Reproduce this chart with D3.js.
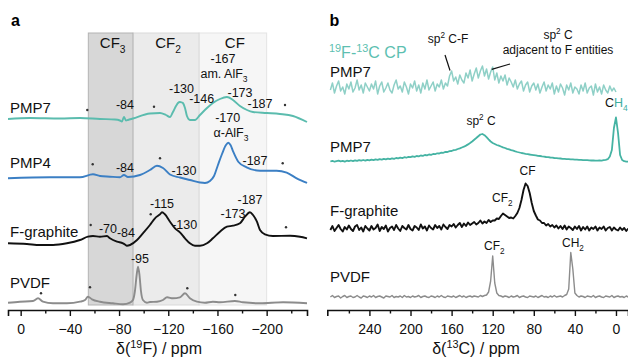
<!DOCTYPE html>
<html><head><meta charset="utf-8">
<script src="https://cdn.jsdelivr.net/npm/d3@7"></script>
<style>body{margin:0;background:#fff}svg{display:block;font-family:"Liberation Sans",Arial,sans-serif}</style>
</head><body><svg id="c" width="628" height="359"></svg>
<script>
// ---------- Panel a data: 19F MAS NMR (ppm, relative intensity) ----------
const samplesA = ["PMP7", "PMP4", "F-graphite", "PVDF"];
const regionNames = ["CF3", "CF2", "CF"];
const regionFrom = [-55, -91.3, -145];
const regionTo = [-91.3, -145, -200];
const ticksA = [0, -40, -80, -120, -160, -200];
const minorTicksA = [-20, -60, -100, -140, -180, -220];

const pmp7F_ppm = [10.3,-7.6,-32,-48.2,-64.5,-76.7,-80.7,-82.3,-84,-85.6,-87.2,-91.3,-105.1,-113.3,-118.1,-121.4,-123.8,-126.3,-127.9,-129.5,-131.1,-131.9,-133.6,-135.2,-137.6,-141.7,-145.8,-151.5,-156.3,-162,-167.7,-172.6,-178.3,-184,-188.9,-200.2,-210.8,-221.4,-232.8];
const pmp7F_int = [3,4,3.5,4,3,2.5,1.5,0.5,5,1.5,2,3.5,8.5,9,7,5,10,16,19,20,19.5,19,14,6,2,2,7,14,19,23,25,22,16,12,10,9,8,6,0];

const pmp4F_ppm = [10.3,-23.8,-48.2,-58.8,-64.5,-72.6,-80.7,-84,-87.2,-97,-105.1,-110.8,-115.7,-121.4,-129.5,-137.6,-145.8,-149.8,-153.9,-157.2,-160.4,-163.7,-166.9,-168.8,-170.6,-172.8,-176.9,-183.7,-194.6,-208.1,-216.3,-224.4,-232.8];
const pmp4F_int = [4.7,5.7,5.7,8.7,7,6.3,5.7,8,6,8,13,17.3,15,8.5,5.5,3,0.5,0,2,7,18,29,38,40.3,38,31.3,21.3,15.7,12.3,12.3,10.3,4.7,0];

const fgF_ppm = [10.3,-5.1,-15.7,-26.3,-37.6,-48.2,-54.7,-58.8,-64.5,-70.2,-72.6,-78.3,-83.2,-84.8,-86.4,-88.9,-94.6,-99.4,-105.1,-109.2,-113.3,-114.9,-117.3,-121.4,-125.5,-129.5,-133.6,-137.6,-141.7,-145.8,-151.5,-156.3,-162,-167.7,-172.6,-178.3,-182.4,-186.4,-188.9,-192.1,-194.6,-198.6,-205.1,-219,-227.1,-232.8];
const fgF_int = [2.7,2,1,1,2.7,6,9.3,10,9.3,10,7.7,4.3,2.7,1.5,0.3,1,6,12.7,21,27.7,31.7,33.7,31.7,24.3,17.7,13.7,7.7,2.7,0.3,0.3,2.7,7.7,14.3,19.3,20.3,22.7,29.3,33.7,31,24.3,16,11.7,10,10.3,9.3,7.7];

const pvdfF_ppm = [10.3,0.6,-10,-14.1,-18.1,-26.3,-37.6,-48.2,-52.3,-54.7,-58,-64.5,-75,-83.2,-88.9,-91.3,-92.9,-94.3,-95.4,-96.6,-97.8,-99.4,-102.7,-105.1,-110.8,-115.7,-119,-123.8,-129.5,-133.6,-137.6,-143.3,-149.8,-156.3,-162,-174.2,-180.7,-194.6,-213.3,-232.8];
const pvdfF_int = [2.3,3.3,4,6.7,3.3,1.7,1.7,3.3,5,8.3,5.7,3.3,1.7,0.7,2.3,5,14,30,38.3,30,14,5,2.3,3,3.3,5,7.7,6.7,7.7,11.7,6.7,3.3,2.3,3.3,2.7,4,2.7,1.7,2.7,1.7];

// ---------- Panel b data: 13C NMR (ppm grid, intensities) ----------
const ticksB = [240, 200, 160, 120, 80, 40, 0];
const minorTicksB = [260, 220, 180, 140, 100, 60, 20];
const ppmC = [278,276,274,272,270,268,266,264,262,260,258,256,254,252,250,248,246,244,242,240,238,236,234,232,230,228,226,224,222,220,218,216,214,212,210,208,206,204,202,200,198,196,194,192,190,188,186,184,182,180,178,176,174,172,170,168,166,164,162,160,158,156,154,152,150,148,146,144,142,140,138,136,134,132,130,128,126,124,122,120,118,116,114,112,110,108,106,104,102,100,98,96,94,92,90,88,86,84,82,80,78,76,74,72,70,68,66,64,62,60,58,56,54,52,50,48,46,44,42,40,38,36,34,32,30,28,26,24,22,20,18,16,14,12,10,8,6,4,2,0,-2,-4,-6,-8,-10,-12];
const cpPMP7 = [5,12,2,9,14,4,8,1,11,6, 13,3,7,15,5,10,2,12,8,4, 11,6,14,1,9,13,3,7,12,5, 2,10,15,6,9,3,13,8,1,11, 7,14,4,10,2,12,6,15,5,9, 13,4,11,8,15,6,12,9,19,24, 14,18,11,20,15,12,22,17,25,14, 21,27,17,24,29,19,26,16,23,28, 15,22,12,19,14,20,10,17,13,8, 15,6,11,14,4,10,13,3,9,12, 5,11,2,8,13,4,10,6,12,1, 9,3,11,7,0,10,5,12,2,8, 6,1,10,4,12,2,7,9,0,11, 3,8,1,10,5,2,9,4,7,3, null,null,null,null,null,null];
const pmp7C = [0.5,1.2,0.3,0.9,1.4,0.6,1.1,0.4,1.3,0.8, 1.5,0.9,1.7,1.1,1.9,1.3,2.0,1.4,2.2,1.6, 2.4,1.8,2.6,2.1,2.9,2.3,3.1,2.6,3.4,2.9, 3.7,3.2,4.0,3.6,4.4,3.9,4.8,4.3,5.2,4.8, 5.6,5.1,6.0,5.7,6.5,6.2,7.0,6.6,7.5,7.2, 8.0,7.8,8.7,8.5,9.3,9.2,10.1,10.0,10.9,11.0, 11.8,12.2,13.0,13.6,14.5,15.3,16.4,17.6,19.0,20.5, 22.3,24.0,25.8,27.5,28.0,26.8,24.8,22.6,20.5,19.0, 18.0,17.0,16.3,15.5,14.6,14.0,13.1,12.6,11.8,11.3, 10.6,10.0,9.5,9.0,8.6,8.2,7.9,7.5,7.2,6.9, 6.6,6.2,6.0,5.6,5.4,5.0,4.9,4.5,4.3,4.0, 3.9,3.6,3.5,3.2,3.1,2.9,2.8,2.6,2.6,2.4, 2.3,2.1,2.2,1.9,1.8,1.9,1.6,1.5,1.7,1.4, 1.3,1.5,1.4,1.8,2.2,2.8,5.5,12.0,34.0,44.5, 29.0,7.0,2.0,0.8,0.4,0.3];
const fgC = [2,6,1,4,7,3,0.5,5,2.5,6.5, 3,1,5.5,7,2,4.5,0.5,6,3.5,1.5, 6,2.5,4,7.5,1,5,3,6.5,0.5,4, 5.5,2,7,3.5,1,6,4,2.5,7,3, 1.5,6,4.5,2,7.5,3.5,5.5,1.5,6.5,4, 2.5,7,4,6,2.5,7.5,5,3,7,5.5, 8,4.5,7,9,5,8.5,6,9.5,7,8.5, 10,7.5,9,11.5,8.5,10.5,9,12,10,11.5, 11.5,13.5,13,16,18.5,17,15.5,14,14.5,13.5, 16,19,24,32,42,48.5,46,39,29,21, 16.5,12.5,11.5,9,9,6.5,8,5.5,7,4.5, 6.5,3.5,6,3,6.5,2.5,5.5,4,2,5.5, 3,6,1.5,5,2.5,5.5,1.5,4.5,3,5.5, 1.5,4.5,3,5.5,1.5,4,5,1.5,4.5,2.5, 1.5,4.5,2,4,1,3.5];
const pvdfC = [2,3.5,1.5,2.5,3,1,2.5,3.5,1.5,2.5, 3,1.5,2,3.5,2,1,3,2.5,1.5,3, 2,3.5,1.5,2.5,3,2,1,3,2.5,2, 3.5,1.5,2.5,2,3,1.5,3.5,2,2.5,1.5, 3,2,2.5,3.5,1.5,2.5,3,2,1.5,3, 2.5,1.5,3,2,3.5,2,1.5,3,2.5,2, 3,1.5,2.5,3.5,2,3,1.5,2.5,3,2, 3,2.5,2,3.5,2.5,3.5,4,7,18,43, 16,6,3.5,3,2,3,2.5,1.5,3,2, 2.5,3.5,1.5,2.5,3,2,1.5,3,2.5,2, 3,1.5,2.5,3.5,2,2.5,1.5,3,2,3.5, 2,2.5,3,2,3.5,4.5,10,46.5,30,6, 3.5,2,3,2.5,1.5,3,2.5,2,3.5,1.5, 2.5,3,2,1.5,3,2.5,2,3.5,1.5,2.5, 3,2,2.5,1.5,3,2];

// ---------- drawing ----------
const svg = d3.select("#c");
const FONT = '"Liberation Sans",Arial,sans-serif';
const xA = d3.scaleLinear().domain([10.3, -232.8]).range([8, 307]);
const xB = d3.scaleLinear().domain([281, -11.7]).range([327.3, 628]);
const y = d3.scaleLinear().domain([0, 310]).range([310, 0]);

function rich(g, x, yy, parts, size, anchor, fill) {
  const t = g.append("text").attr("x", x).attr("y", yy).attr("font-size", size)
    .attr("text-anchor", anchor || "start").attr("fill", fill || "#111");
  let shift = 0;
  parts.forEach(p => {
    const o = typeof p === "string" ? {t: p} : p;
    const ts = t.append("tspan").text(o.t);
    const target = o.sub ? size * 0.3 : o.sup ? -size * 0.38 : 0;
    ts.attr("dy", target - shift); shift = target;
    if (o.sub || o.sup) ts.attr("font-size", size * 0.68);
    if (o.fill) ts.attr("fill", o.fill);
  });
  return t;
}

// shaded regions (draw CF, CF2, CF3)
const regionFill = ["#d7d7d7", "#ebebeb", "#f6f6f6"];
const regionStroke = ["#b3b3b3", "#d9d9d9", "#e4e4e4"];
[2, 1, 0].forEach(i => {
  svg.append("rect").attr("x", xA(regionFrom[i])).attr("y", 33)
    .attr("width", xA(regionTo[i]) - xA(regionFrom[i])).attr("height", 272)
    .attr("fill", regionFill[i]).attr("stroke", regionStroke[i]).attr("stroke-width", 1);
});
regionNames.forEach((n, i) => {
  const cx = (xA(regionFrom[i]) + xA(regionTo[i])) / 2 + 2;
  const parts = n.length > 2 ? ["CF", {t: n.slice(2), sub: true}] : [n];
  rich(svg, cx, 48, parts, 15, "middle");
});

// axes
function drawAxis(x, major, minor, fmt, title, cx, sup) {
  const gm = svg.append("g").attr("transform", "translate(0,310)")
    .call(d3.axisBottom(x).tickValues(major).tickSize(6).tickPadding(8).tickFormat(fmt));
  gm.select(".domain").attr("stroke", "#111").attr("stroke-width", 1.6);
  gm.selectAll(".tick line").attr("stroke", "#111").attr("stroke-width", 1.4);
  gm.selectAll(".tick text").attr("font-size", 14).attr("font-family", FONT).attr("fill", "#111");
  const gn = svg.append("g").attr("transform", "translate(0,310)")
    .call(d3.axisBottom(x).tickValues(minor).tickSize(3.5).tickFormat(""));
  gn.select(".domain").remove();
  gn.selectAll(".tick line").attr("stroke", "#111").attr("stroke-width", 1.4);
  rich(svg, cx, 354, ["δ(", {t: sup, sup: true}, title + ") / ppm"], 16, "middle");
}
drawAxis(xA, ticksA, minorTicksA, d => d === 0 ? "0" : "\u2212" + Math.abs(d), "F", 159, "19");
drawAxis(xB, ticksB, minorTicksB, d => String(d), "C", 476, "13");

// panel a curves
const offA = [188, 127, 64, 5];
const colA = ["#5bbcae", "#3b7fc4", "#111111", "#8c8c8c"];
const dataA = [[pmp7F_ppm, pmp7F_int], [pmp4F_ppm, pmp4F_int], [fgF_ppm, fgF_int], [pvdfF_ppm, pvdfF_int]];
dataA.forEach((d, k) => {
  const pts = d[0].map((p, i) => [xA(p), y(offA[k] + d[1][i])]);
  svg.append("path").attr("d", d3.line().curve(d3.curveMonotoneX)(pts))
    .attr("fill", "none").attr("stroke", colA[k]).attr("stroke-width", 1.9).attr("stroke-linejoin", "round");
});
const labYA = [112.5, 168, 236.5, 288.3];
samplesA.forEach((s, i) => svg.append("text").attr("x", 10).attr("y", labYA[i]).attr("font-size", 15).attr("fill", "#111").text(s));

// panel a annotations
const annA = [
  ["-167", 223, 63], ["-130", 181.5, 93], ["-146", 201.7, 103], ["-173", 240, 97], ["-187", 260, 108], ["-84", 125, 109],
  ["-170", 227.7, 121.5], ["-84", 125, 171.5], ["-130", 184, 175], ["-187", 255, 165],
  ["-115", 162, 207.5], ["-130", 184.7, 229], ["-173", 233, 217.5], ["-187", 250, 204], ["-70", 108, 233], ["-84", 126, 236.5],
  ["-95", 140, 263]
];
annA.forEach(a => svg.append("text").attr("x", a[1]).attr("y", a[2]).attr("font-size", 12.5)
  .attr("text-anchor", "middle").attr("fill", "#111").text(a[0]));
rich(svg, 224, 78, ["am. AlF", {t: "3", sub: true}], 12.5, "middle");
rich(svg, 231, 137, ["α-AlF", {t: "3", sub: true}], 12.5, "middle");
const dotsA = [[87.3,110],[154,106.7],[285,105],[92.7,164.3],[160,158.3],[282.7,163.3],[90.7,225],[150.7,214.3],[286,227.3],[41,293.3],[90,287.3],[187.3,288.3],[235.3,295]];
dotsA.forEach(d => svg.append("circle").attr("cx", d[0]).attr("cy", d[1]).attr("r", 1.2).attr("fill", "#333"));

// panel b curves
const offB = [215, 148, 78, 11];
const colB = ["#8fd0c7", "#45b3a3", "#111111", "#8c8c8c"];
const widB = [1.5, 1.8, 1.9, 1.4];
[cpPMP7, pmp7C, fgC, pvdfC].forEach((vals, k) => {
  const line = d3.line().defined((d, i) => vals[i] !== null).x((d, i) => xB(ppmC[i])).y((d, i) => y(offB[k] + vals[i]));
  svg.append("path").attr("d", line(vals)).attr("fill", "none").attr("stroke", colB[k])
    .attr("stroke-width", widB[k]).attr("stroke-linejoin", "round");
});
const samplesB = ["PMP7", "PMP7", "F-graphite", "PVDF"];
const labYB = [77, 151.7, 216, 281.7];
samplesB.forEach((s, i) => svg.append("text").attr("x", 330).attr("y", labYB[i]).attr("font-size", 15).attr("fill", "#111").text(s));
rich(svg, 329, 58, [{t: "19", sup: true}, "F-", {t: "13", sup: true}, "C CP"], 16, "start", "#5dbfb1");

// panel b annotations
rich(svg, 448, 43, ["sp", {t: "2", sup: true}, " C-F"], 12, "middle");
rich(svg, 558, 39, ["sp", {t: "2", sup: true}, " C"], 12, "middle");
svg.append("text").attr("x", 558).attr("y", 53.5).attr("font-size", 12).attr("text-anchor", "middle").attr("fill", "#111").text("adjacent to F entities");
svg.append("line").attr("x1", 445).attr("y1", 55).attr("x2", 450).attr("y2", 70.5).attr("stroke", "#111").attr("stroke-width", 1.2);
svg.append("line").attr("x1", 491.7).attr("y1", 69.3).attr("x2", 510).attr("y2", 64).attr("stroke", "#111").attr("stroke-width", 1.2);
rich(svg, 481, 125, ["sp", {t: "2", sup: true}, " C"], 12, "middle");
rich(svg, 605, 107, ["C", {t: "H", fill: "#3fae9f"}, {t: "4", sub: true, fill: "#3fae9f"}], 12.5, "start");
rich(svg, 527.5, 175, ["CF"], 12, "middle");
rich(svg, 492, 202, ["CF", {t: "2", sub: true}], 12, "start");
rich(svg, 484, 250, ["CF", {t: "2", sub: true}], 12, "start");
rich(svg, 562, 247, ["CH", {t: "2", sub: true}], 12, "start");

// panel letters
svg.append("text").attr("x", 11).attr("y", 26).attr("font-size", 16).attr("font-weight", "bold").text("a");
svg.append("text").attr("x", 329.5).attr("y", 26).attr("font-size", 16).attr("font-weight", "bold").text("b");
</script></body></html>
